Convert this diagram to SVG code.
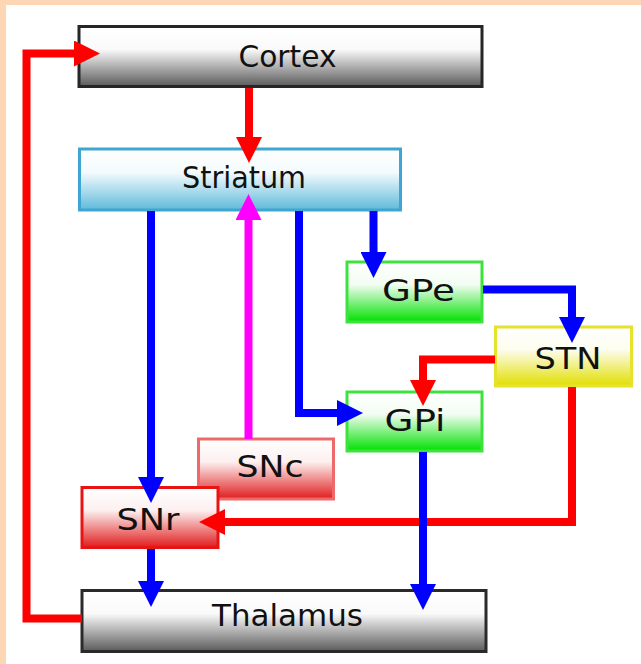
<svg xmlns="http://www.w3.org/2000/svg" width="641" height="664" viewBox="0 0 641 664">
  <defs>
    <linearGradient id="gGray" x1="0" y1="0" x2="0" y2="1">
      <stop offset="0" stop-color="#ffffff"/>
      <stop offset="0.38" stop-color="#fafafa"/>
      <stop offset="1" stop-color="#5a5a5a"/>
    </linearGradient>
    <linearGradient id="gBlue" x1="0" y1="0" x2="0" y2="1">
      <stop offset="0" stop-color="#ffffff"/>
      <stop offset="0.38" stop-color="#f4fbfd"/>
      <stop offset="1" stop-color="#5fbadb"/>
    </linearGradient>
    <linearGradient id="gGreen" x1="0" y1="0" x2="0" y2="1">
      <stop offset="0" stop-color="#ffffff"/>
      <stop offset="0.38" stop-color="#f2fdf2"/>
      <stop offset="1" stop-color="#00e000"/>
    </linearGradient>
    <linearGradient id="gYellow" x1="0" y1="0" x2="0" y2="1">
      <stop offset="0" stop-color="#ffffff"/>
      <stop offset="0.38" stop-color="#fdfdf0"/>
      <stop offset="1" stop-color="#e2de00"/>
    </linearGradient>
    <linearGradient id="gRed" x1="0" y1="0" x2="0" y2="1">
      <stop offset="0" stop-color="#ffffff"/>
      <stop offset="0.38" stop-color="#fdf0f0"/>
      <stop offset="1" stop-color="#e01c1c"/>
    </linearGradient>
    <marker id="aRed" markerUnits="userSpaceOnUse" markerWidth="26" markerHeight="26" viewBox="0 0 26 26" refX="1" refY="13" orient="auto">
      <path d="M0,0 L26,13 L0,26 z" fill="#ff0000"/>
    </marker>
    <marker id="aBlue" markerUnits="userSpaceOnUse" markerWidth="26" markerHeight="26" viewBox="0 0 26 26" refX="1" refY="13" orient="auto">
      <path d="M0,0 L26,13 L0,26 z" fill="#0000ff"/>
    </marker>
    <marker id="aMag" markerUnits="userSpaceOnUse" markerWidth="26" markerHeight="26" viewBox="0 0 26 26" refX="1" refY="13" orient="auto">
      <path d="M0,0 L26,13 L0,26 z" fill="#ff00ff"/>
    </marker>
  </defs>
  <style>
    .box { stroke-width: 3; }
    .lbl { font-family: "DejaVu Sans", "Liberation Sans", sans-serif; font-size: 30px; fill: #111111; text-anchor: middle; }
    .c { fill: none; stroke-width: 8; stroke-linejoin: miter; stroke-linecap: butt; }
    .red { stroke: #ff0000; marker-end: url(#aRed); }
    .blue { stroke: #0000ff; marker-end: url(#aBlue); }
    .mag { stroke: #ff00ff; marker-end: url(#aMag); }
  </style>

  <!-- frame -->
  <rect x="0" y="0" width="641" height="664" fill="#fdd6b4"/>
  <rect x="6" y="5" width="635" height="659" fill="#ffffff"/>

  <g id="cortex">
    <rect class="box" x="79" y="26.5" width="403" height="60" fill="url(#gGray)" stroke="#262626"/>
    <text class="lbl" x="287.5" y="66.5" textLength="98" lengthAdjust="spacingAndGlyphs">Cortex</text>
  </g>
  <g id="striatum">
    <rect class="box" x="79.5" y="149" width="321" height="61" fill="url(#gBlue)" stroke="#3ea6d0"/>
    <text class="lbl" x="244" y="187.5" textLength="124" lengthAdjust="spacingAndGlyphs">Striatum</text>
  </g>
  <g id="gpe">
    <rect class="box" x="347" y="262" width="135" height="60" fill="url(#gGreen)" stroke="#3ee23e"/>
    <text class="lbl" x="418.5" y="300.5" textLength="73" lengthAdjust="spacingAndGlyphs">GPe</text>
  </g>
  <g id="stn">
    <rect class="box" x="495.5" y="327" width="136" height="59" fill="url(#gYellow)" stroke="#e6e22e"/>
    <text class="lbl" x="568" y="368.5" textLength="67" lengthAdjust="spacingAndGlyphs">STN</text>
  </g>
  <g id="gpi">
    <rect class="box" x="347" y="392" width="135" height="59" fill="url(#gGreen)" stroke="#3ee23e"/>
    <text class="lbl" x="415" y="430.5" textLength="61" lengthAdjust="spacingAndGlyphs">GPi</text>
  </g>
  <g id="snc">
    <rect class="box" x="198.5" y="439" width="135" height="60" fill="url(#gRed)" stroke="#ee6a6a"/>
    <text class="lbl" x="270" y="477" textLength="67" lengthAdjust="spacingAndGlyphs">SNc</text>
  </g>
  <g id="snr">
    <rect class="box" x="82" y="487.5" width="136" height="60" fill="url(#gRed)" stroke="#e81414"/>
    <text class="lbl" x="148" y="530" textLength="63" lengthAdjust="spacingAndGlyphs">SNr</text>
  </g>
  <g id="thalamus">
    <rect class="box" x="82" y="590.5" width="404" height="61" fill="url(#gGray)" stroke="#2a2a2a"/>
    <text class="lbl" x="287.5" y="626" textLength="151" lengthAdjust="spacingAndGlyphs">Thalamus</text>
  </g>

  <g id="connectors">
    <!-- excitatory (red) -->
    <polyline class="c red" points="82,618.5 26.5,618.5 26.5,53.5 75,53.5"/>
    <polyline class="c red" points="249,88 249,138"/>
    <polyline class="c red" points="495,359.5 423,359.5 423,381"/>
    <polyline class="c red" points="572,387 572,522 224,522"/>
    <!-- dopaminergic (magenta) -->
    <polyline class="c mag" points="248.5,439 248.5,219"/>
    <!-- inhibitory (blue) -->
    <polyline class="c blue" points="151,211 151,478"/>
    <polyline class="c blue" points="299,211 299,413 338,413"/>
    <polyline class="c blue" points="373.5,211 373.5,253"/>
    <polyline class="c blue" points="483,289.5 572,289.5 572,318"/>
    <polyline class="c blue" points="423,452 423,585"/>
    <polyline class="c blue" points="151,549 151,582"/>
  </g>
</svg>
